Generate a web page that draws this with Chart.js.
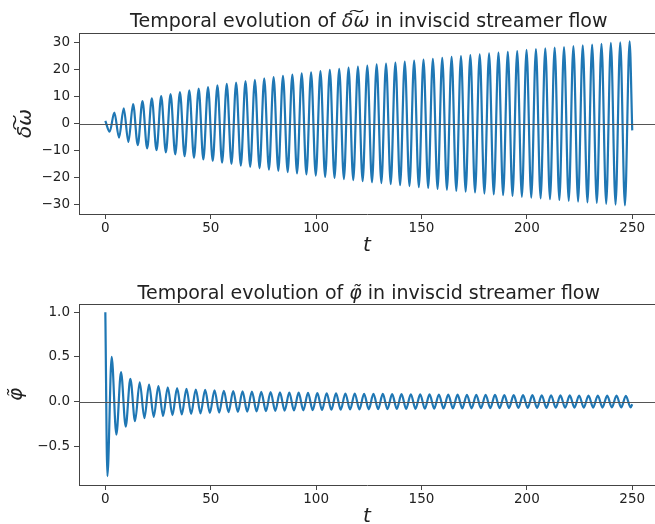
<!DOCTYPE html>
<html>
<head>
<meta charset="utf-8">
<script src="https://cdn.jsdelivr.net/npm/chart.js@4.4.1/dist/chart.umd.min.js"></script>
<style>
  html, body { margin: 0; padding: 0; background: #fff; overflow: hidden; }
  #top { position: absolute; left: 0; top: 0; width: 655px; height: 262px; }
  #bottom { position: absolute; left: 0; top: 262px; width: 655px; height: 271px; }
</style>
</head>
<body>
<div id="top"><canvas id="omegaChart"></canvas></div>
<div id="bottom"><canvas id="phiChart"></canvas></div>
<script>
// delta-omega: start, successive troughs / crests, end
const omegaT = [
  0,
  2.05, 4.27, 6.50, 8.72, 10.94, 13.16, 15.39, 17.61, 19.83, 22.05,
  24.28, 26.50, 28.72, 30.94, 33.17, 35.39, 37.61, 39.83, 42.06, 44.28,
  46.50, 48.72, 50.95, 53.17, 55.39, 57.61, 59.84, 62.06, 64.28, 66.50,
  68.73, 70.95, 73.17, 75.39, 77.62, 79.84, 82.06, 84.28, 86.51, 88.73,
  90.95, 93.17, 95.40, 97.62, 99.84, 102.06, 104.29, 106.51, 108.73, 110.95,
  113.18, 115.40, 117.62, 119.84, 122.07, 124.29, 126.51, 128.73, 130.96, 133.18,
  135.40, 137.62, 139.85, 142.07, 144.29, 146.51, 148.74, 150.96, 153.18, 155.40,
  157.63, 159.85, 162.07, 164.29, 166.52, 168.74, 170.96, 173.18, 175.41, 177.63,
  179.85, 182.07, 184.30, 186.52, 188.74, 190.96, 193.19, 195.41, 197.63, 199.85,
  202.08, 204.30, 206.52, 208.74, 210.97, 213.19, 215.41, 217.63, 219.86, 222.08,
  224.30, 226.52, 228.75, 230.97, 233.19, 235.41, 237.64, 239.86, 242.08, 244.30,
  246.53, 248.75,
  250
];
const omegaV = [
  1.0,
  -3.0, 4.1, -5.2, 5.7, -6.8, 7.3, -8.0, 8.4, -9.2, 9.4,
  -9.9, 10.2, -10.7, 11.0, -11.4, 11.7, -12.1, 12.4, -12.7, 13.0,
  -13.3, 13.6, -13.9, 14.2, -14.5, 14.8, -15.0, 15.3, -15.6, 15.8,
  -16.1, 16.3, -16.6, 16.8, -17.1, 17.3, -17.5, 17.8, -18.0, 18.2,
  -18.5, 18.7, -18.9, 19.1, -19.3, 19.5, -19.8, 20.0, -20.2, 20.4,
  -20.6, 20.8, -21.0, 21.2, -21.4, 21.6, -21.8, 22.0, -22.1, 22.3,
  -22.5, 22.7, -22.9, 23.1, -23.2, 23.4, -23.6, 23.8, -23.9, 24.1,
  -24.3, 24.5, -24.6, 24.8, -25.0, 25.1, -25.3, 25.5, -25.6, 25.8,
  -26.0, 26.1, -26.3, 26.4, -26.6, 26.7, -26.9, 27.0, -27.2, 27.4,
  -27.5, 27.7, -27.8, 28.0, -28.1, 28.3, -28.4, 28.5, -28.7, 28.8,
  -29.0, 29.1, -29.3, 29.4, -29.5, 29.7, -29.8, 30.0, -30.1, 30.2,
  -30.4, 30.6,
  -2.5
];

// phi: start, first dip, then crests / troughs, end
const phiT = [
  0, 0.97,
  3.00, 5.22, 7.44, 9.65, 11.87, 14.09, 16.31, 18.53, 20.74, 22.96,
  25.18, 27.40, 29.62, 31.83, 34.05, 36.27, 38.49, 40.71, 42.92, 45.14,
  47.36, 49.58, 51.80, 54.01, 56.23, 58.45, 60.67, 62.89, 65.10, 67.32,
  69.54, 71.76, 73.98, 76.19, 78.41, 80.63, 82.85, 85.07, 87.28, 89.50,
  91.72, 93.94, 96.16, 98.37, 100.59, 102.81, 105.03, 107.25, 109.46, 111.68,
  113.90, 116.12, 118.34, 120.55, 122.77, 124.99, 127.21, 129.43, 131.64, 133.86,
  136.08, 138.30, 140.52, 142.73, 144.95, 147.17, 149.39, 151.61, 153.82, 156.04,
  158.26, 160.48, 162.70, 164.91, 167.13, 169.35, 171.57, 173.79, 176.00, 178.22,
  180.44, 182.66, 184.88, 187.09, 189.31, 191.53, 193.75, 195.97, 198.18, 200.40,
  202.62, 204.84, 207.06, 209.27, 211.49, 213.71, 215.93, 218.15, 220.36, 222.58,
  224.80, 227.02, 229.24, 231.45, 233.67, 235.89, 238.11, 240.33, 242.54, 244.76,
  246.98, 249.20,
  250
];
const phiV = [
  1.0, -0.835,
  0.50, -0.37, 0.33, -0.28, 0.255, -0.22, 0.215, -0.185, 0.19, -0.172,
  0.173, -0.161, 0.160, -0.152, 0.150, -0.145, 0.142, -0.138, 0.135, -0.133,
  0.130, -0.127, 0.125, -0.123, 0.121, -0.119, 0.117, -0.115, 0.114, -0.112,
  0.111, -0.109, 0.108, -0.107, 0.105, -0.104, 0.103, -0.102, 0.101, -0.100,
  0.099, -0.098, 0.097, -0.096, 0.095, -0.094, 0.093, -0.092, 0.092, -0.091,
  0.090, -0.089, 0.089, -0.088, 0.087, -0.087, 0.086, -0.086, 0.085, -0.084,
  0.084, -0.083, 0.083, -0.082, 0.082, -0.081, 0.081, -0.080, 0.080, -0.079,
  0.079, -0.078, 0.078, -0.077, 0.077, -0.077, 0.076, -0.076, 0.075, -0.075,
  0.075, -0.074, 0.074, -0.073, 0.073, -0.073, 0.072, -0.072, 0.072, -0.071,
  0.071, -0.071, 0.070, -0.070, 0.070, -0.069, 0.069, -0.069, 0.069, -0.068,
  0.068, -0.068, 0.067, -0.067, 0.067, -0.067, 0.066, -0.066, 0.066, -0.066,
  0.065, -0.065,
  -0.03
];

const xTicks = [0, 50, 100, 150, 200, 250];
const xTickLabels = ['0', '50', '100', '150', '200', '250'];
const omegaTicks = [-30, -20, -10, 0, 10, 20, 30];
const omegaTickLabels = ['\u221230', '\u221220', '\u221210', '0', '10', '20', '30'];
const phiTicks = [-0.5, 0, 0.5, 1.0];
const phiTickLabels = ['\u22120.5', '0.0', '0.5', '1.0'];

const FONT = "'DejaVu Sans', sans-serif";
const INK = '#222';
const FRAME = '#444';
const BLUE = '#1f77b4';

// title drawn by hand: the math part is italic and the text is centred on the full axes
const mathTitle = {
  id: 'mathTitle',
  afterDraw(chart, args, opts) {
    const ctx = chart.ctx;
    const cx = chart.scales.x.getPixelForValue(opts.center);
    ctx.save();
    ctx.fillStyle = INK;
    ctx.textBaseline = 'alphabetic';
    ctx.textAlign = 'left';
    const fonts = opts.parts.map(p => (p[1] ? 'italic ' : '') + opts.size + 'px ' + FONT);
    let w = 0;
    opts.parts.forEach((p, i) => { ctx.font = fonts[i]; w += ctx.measureText(p[0]).width; });
    let x = cx - w / 2;
    opts.parts.forEach((p, i) => {
      ctx.font = fonts[i];
      ctx.fillText(p[0], x, opts.baseline);
      x += ctx.measureText(p[0]).width;
    });
    ctx.restore();
  }
};

// top spine + horizontal zero line
const frame = {
  id: 'frame',
  afterDatasetsDraw(chart) {
    const { ctx, chartArea: a, scales: { y } } = chart;
    const y0 = Math.round(y.getPixelForValue(0)) + 0.5;
    ctx.save();
    ctx.lineWidth = 1;
    ctx.strokeStyle = '#555';
    ctx.beginPath(); ctx.moveTo(a.left, y0); ctx.lineTo(a.right, y0); ctx.stroke();
    ctx.strokeStyle = FRAME;
    ctx.beginPath(); ctx.moveTo(a.left, a.top + 0.5); ctx.lineTo(a.right, a.top + 0.5); ctx.stroke();
    ctx.restore();
  }
};

function makeChart(id, ts, vs, o) {
  return new Chart(document.getElementById(id), {
    type: 'line',
    data: {
      datasets: [{
        data: ts.map((t, i) => ({ x: t, y: vs[i] })),
        borderColor: BLUE, borderWidth: 2.2, pointRadius: 0,
        cubicInterpolationMode: 'monotone', fill: false
      }]
    },
    plugins: [frame, mathTitle],
    options: {
      responsive: true, maintainAspectRatio: false, animation: false,
      layout: { padding: { top: o.padTop, left: 0, right: 0, bottom: 0 } },
      plugins: {
        legend: { display: false }, tooltip: { enabled: false },
        mathTitle: { parts: o.title, size: 19, baseline: o.titleBase, center: 125 }
      },
      scales: {
        x: {
          type: 'linear', min: -12.5, max: 260.8,
          afterBuildTicks: s => { s.ticks = xTicks.map(v => ({ value: v })); },
          afterFit: s => { s.height = 48; },
          ticks: { font: { family: FONT, size: 13.5 }, color: INK, padding: 1, maxRotation: 0,
                   callback: (v, i) => xTickLabels[i] },
          grid: { drawOnChartArea: false, drawTicks: true, tickLength: 5, color: FRAME },
          border: { display: true, color: FRAME, width: 1 },
          title: { display: true, text: 't', color: INK,
                   font: { family: FONT, size: 20, style: 'italic' }, padding: { top: 0, bottom: 4 } }
        },
        y: {
          type: 'linear', min: o.yMin, max: o.yMax,
          afterBuildTicks: s => { s.ticks = o.yTicks.map(v => ({ value: v })); },
          afterFit: s => { s.width = 79; },
          ticks: { font: { family: FONT, size: 13.5 }, color: INK, padding: 4,
                   callback: (v, i) => o.yLabels[i] },
          grid: { drawOnChartArea: false, drawTicks: true, tickLength: 5, color: FRAME },
          border: { display: true, color: FRAME, width: 1 },
          title: { display: true, text: o.yTitle, color: INK,
                   font: { family: FONT, size: 20, style: 'italic' }, padding: { top: o.yTitlePad, bottom: 0 } }
        }
      }
    }
  });
}

makeChart('omegaChart', omegaT, omegaV, {
  padTop: 33, titleBase: 26.5,
  title: [['Temporal evolution of ', false], ['\u03b4\u0360\u03c9', true], [' in inviscid streamer flow', false]],
  yMin: -33.6, yMax: 33.7, yTicks: omegaTicks, yLabels: omegaTickLabels,
  yTitle: '\u03b4\u0360\u03c9', yTitlePad: 14
});

makeChart('phiChart', phiT, phiV, {
  padTop: 42, titleBase: 36.5,
  title: [['Temporal evolution of ', false], ['\u03c6\u0303', true], [' in inviscid streamer flow', false]],
  yMin: -0.935, yMax: 1.093, yTicks: phiTicks, yLabels: phiTickLabels,
  yTitle: '\u03c6\u0303', yTitlePad: 5
});
</script>
</body>
</html>
